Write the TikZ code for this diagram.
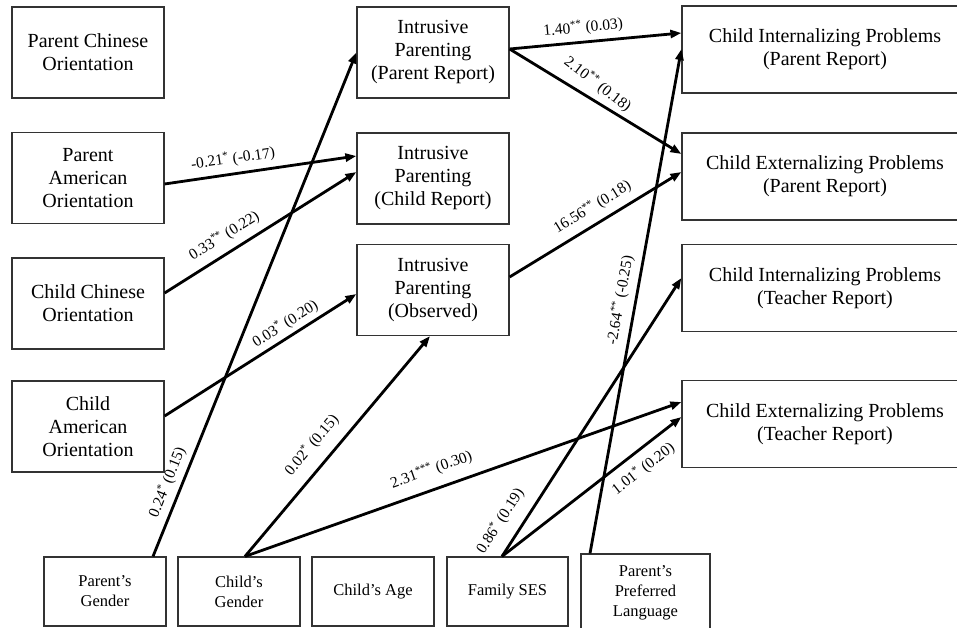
\documentclass[tikz,border=0pt]{standalone}
\usepackage{fontspec}
\setmainfont{Liberation Serif}
\usetikzlibrary{arrows.meta,calc}
\begin{document}
\begin{tikzpicture}[x=1pt,y=-1pt,
  box/.style={draw=black!80, line width=1.2pt, inner sep=0pt, align=center, font=\fontsize{20}{23}\selectfont},
  lbox/.style={box, minimum width=152pt, minimum height=91pt},
  rbox/.style={box, minimum width=286pt, minimum height=87pt},
  sbox/.style={box, minimum width=122pt, minimum height=69pt, font=\fontsize{16.5}{20}\selectfont},
  arr/.style={line width=2.8pt, -{Triangle[length=11pt,width=8pt]}},
  lbl/.style={sloped, anchor=south, font=\fontsize{15.5}{18}\selectfont, inner xsep=0pt, text height=11pt, text depth=3.5pt},
  lblb/.style={lbl, anchor=north}
]
\clip (0,0) rectangle (957,628);
% left column
\node[lbox] (pco) at (88,52.5) {Parent Chinese\\Orientation};
\node[lbox] (pao) at (88,178) {Parent\\American\\Orientation};
\node[lbox] (cco) at (88,303.5) {Child Chinese\\Orientation};
\node[lbox] (cao) at (88,426.5) {Child\\American\\Orientation};
% middle column
\node[lbox] (ipp) at (433,52.5) {Intrusive\\Parenting\\(Parent Report)};
\node[lbox] (ipc) at (433,178.5) {Intrusive\\Parenting\\(Child Report)};
\node[lbox] (ipo) at (433,290) {Intrusive\\Parenting\\(Observed)};
% right column
\node[rbox] (cip) at (825,49.5) {Child Internalizing Problems\\(Parent Report)};
\node[rbox] (cep) at (825,176.5) {Child Externalizing Problems\\(Parent Report)};
\node[rbox] (cit) at (825,288) {Child Internalizing Problems\\(Teacher Report)};
\node[rbox] (cet) at (825,424) {Child Externalizing Problems\\(Teacher Report)};
% bottom row
\node[sbox] (pg) at (105,591.5) {Parent’s\\Gender};
\node[sbox] (cg) at (239,591.5) {Child’s\\Gender};
\node[sbox] (ca) at (373,591.5) {Child’s Age};
\node[sbox, minimum width=121pt] (fs) at (507.5,591.5) {Family SES};
\node[sbox, minimum width=129pt, minimum height=78pt] (ppl) at (645.5,593) {Parent’s\\Preferred\\Language};
% connectors
\draw[arr] ([yshift=-6pt]pao.east) -- ([yshift=22.5pt]ipc.west)
  node[lbl,pos=.368,inner ysep=5.6pt] {-0.21\textsuperscript{*} (-0.17)};
\draw[arr] ([yshift=10.5pt]cco.east) -- ([yshift=6.5pt]ipc.west)
  node[lbl,pos=.357,inner ysep=7.2pt] {0.33\textsuperscript{**} (0.22)};
\draw[arr] ([yshift=10.5pt]cao.east) -- ([yshift=-4pt]ipo.west)
  node[lbl,pos=.665,inner ysep=3.5pt] {0.03\textsuperscript{*} (0.20)};
\draw[arr] ([xshift=48pt]pg.north) -- (ipp.west)
  node[lbl,pos=.136,inner ysep=5.1pt] {0.24\textsuperscript{*} (0.15)};
\draw[arr] ([xshift=6pt]cg.north) -- ([xshift=-3pt]ipo.south)
  node[lbl,pos=.446,inner ysep=11.2pt] {0.02\textsuperscript{*} (0.15)};
\draw[arr] ([xshift=6pt]cg.north) -- ([yshift=22pt]cet.west)
  node[lbl,pos=.442,inner ysep=10.2pt] {2.31\textsuperscript{***} (0.30)};
\draw[arr] ([yshift=3.5pt]ipp.east) -- ([yshift=16.5pt]cip.west)
  node[lbl,pos=.436,inner ysep=5pt] {1.40\textsuperscript{**} (0.03)};
\draw[arr] ([yshift=3.5pt]ipp.east) -- ([yshift=22.5pt]cep.west)
  node[lbl,pos=.456,inner ysep=6.6pt,rotate=-6] {2.10\textsuperscript{**} (0.18)};
\draw[arr] ([yshift=13pt]ipo.east) -- ([yshift=4.5pt]cep.west)
  node[lbl,pos=.531,inner ysep=7pt] {16.56\textsuperscript{**} (0.18)};
\draw[arr] ([xshift=-55.5pt]ppl.north) -- ([yshift=0.5pt]cip.west)
  node[lbl,pos=.496,inner ysep=6.1pt] {-2.64\textsuperscript{**} (-0.25)};
\draw[arr] ([xshift=-5.5pt]fs.north) -- ([yshift=10pt]cit.west)
  node[lbl,pos=.087,inner ysep=11.2pt] {0.86\textsuperscript{*} (0.19)};
\draw[arr] ([xshift=-5.5pt]fs.north) -- ([yshift=7pt]cet.west)
  node[lblb,pos=.728,inner ysep=9.5pt] {1.01\textsuperscript{*} (0.20)};
\end{tikzpicture}
\end{document}
